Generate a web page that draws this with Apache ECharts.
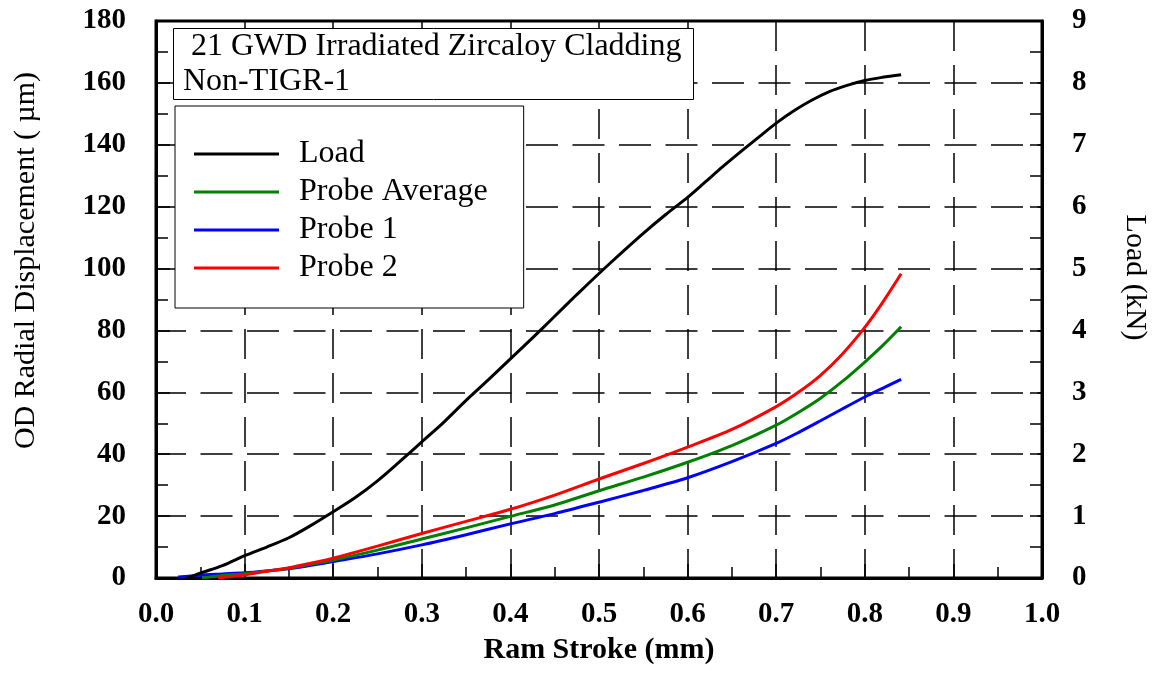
<!DOCTYPE html>
<html>
<head>
<meta charset="utf-8">
<script src="https://cdn.jsdelivr.net/npm/echarts@6/dist/echarts.min.js"></script>
<style>
  html, body { margin: 0; padding: 0; background: #fff; }
  #chart { width: 1154px; height: 681px; }
</style>
</head>
<body>
<div id="chart"></div>
<script>
// ram stroke (mm) vs load (kN) / radial displacement (µm)
const loadStroke = [0.035, 0.05, 0.075, 0.1, 0.125, 0.15, 0.175, 0.2, 0.225, 0.25, 0.275, 0.3, 0.325, 0.35, 0.375, 0.4, 0.425, 0.45, 0.475, 0.5, 0.525, 0.55, 0.575, 0.6, 0.62, 0.64, 0.66, 0.68, 0.7, 0.72, 0.74, 0.76, 0.78, 0.8, 0.82, 0.841];
const loadKN = [0, 0.08, 0.2, 0.36, 0.5, 0.65, 0.85, 1.07, 1.3, 1.57, 1.88, 2.2, 2.52, 2.87, 3.2, 3.54, 3.88, 4.23, 4.58, 4.92, 5.25, 5.57, 5.87, 6.15, 6.4, 6.65, 6.89, 7.12, 7.35, 7.55, 7.72, 7.86, 7.96, 8.04, 8.09, 8.13];

const avgStroke = [0.052, 0.075, 0.1, 0.125, 0.15, 0.175, 0.2, 0.25, 0.3, 0.35, 0.4, 0.45, 0.5, 0.55, 0.6, 0.65, 0.7, 0.725, 0.75, 0.775, 0.8, 0.82, 0.841];
const avgUm = [0, 0.8, 1.4, 2.25, 3.15, 4.4, 5.8, 9.0, 12.6, 16.2, 19.9, 23.6, 28.2, 32.6, 37.4, 42.8, 49.4, 53.5, 58.1, 63.6, 69.8, 75.1, 81.2];

const p1Stroke = [0.025, 0.05, 0.075, 0.1, 0.125, 0.15, 0.175, 0.2, 0.25, 0.3, 0.35, 0.4, 0.45, 0.5, 0.55, 0.6, 0.65, 0.7, 0.725, 0.75, 0.775, 0.8, 0.82, 0.841];
const p1Um = [0.3, 0.9, 1.3, 1.7, 2.3, 3.0, 4.1, 5.3, 7.8, 10.7, 14.0, 17.5, 20.8, 24.5, 28.3, 32.4, 37.6, 43.5, 47.0, 50.8, 54.7, 58.5, 61.3, 64.2];

const p2Stroke = [0.07, 0.085, 0.1, 0.125, 0.15, 0.175, 0.2, 0.25, 0.3, 0.35, 0.4, 0.45, 0.5, 0.55, 0.6, 0.65, 0.7, 0.725, 0.75, 0.775, 0.8, 0.82, 0.841];
const p2Um = [0, 0.5, 1.0, 2.2, 3.3, 4.8, 6.4, 10.3, 14.4, 18.3, 22.2, 26.8, 32.0, 37.0, 42.3, 48.0, 55.4, 60.0, 65.5, 72.5, 81.0, 89.0, 98.3];

const seriesNames = ['Load', 'Probe Average', 'Probe 1', 'Probe 2'];

const pairs = (xs, ys) => xs.map((x, i) => [x, ys[i]]);
const serif = 'Liberation Serif, Times New Roman, serif';

const chart = echarts.init(document.getElementById('chart'));

const tickStyle = { color: '#000', width: 1.5 };

const option = {
  backgroundColor: '#fff',
  animation: false,
  title: {
    text: ' 21 GWD Irradiated Zircaloy Cladding\nNon-TIGR-1',
    left: 173,
    top: 28,
    padding: [1, 12, 1, 10],
    borderColor: '#000',
    borderWidth: 1,
    backgroundColor: '#fff',
    textStyle: { fontFamily: serif, fontSize: 32, fontWeight: 'normal', color: '#000', lineHeight: 35 },
  },
  legend: {
    data: seriesNames,
    orient: 'vertical',
    left: 175,
    top: 106,
    padding: [32, 36, 24, 19],
    itemGap: 6,
    itemWidth: 85,
    itemHeight: 3,
    icon: 'rect',
    selectedMode: false,
    borderColor: '#000',
    borderWidth: 1,
    backgroundColor: '#fff',
    textStyle: { fontFamily: serif, fontSize: 32, color: '#000', lineHeight: 30, padding: [0, 0, 0, 15] },
  },
  grid: {
    left: 156,
    right: 112,
    top: 21,
    bottom: 103,
    outerBoundsMode: 'none',
    show: true,
    borderColor: '#000',
    borderWidth: 3,
  },
  xAxis: {
    type: 'value',
    min: 0,
    max: 1,
    interval: 0.1,
    name: 'Ram Stroke (mm)',
    nameLocation: 'middle',
    nameGap: 57,
    nameTextStyle: { fontFamily: serif, fontSize: 30, fontWeight: 'bold', color: '#000' },
    axisLine: { show: true, lineStyle: { color: '#000', width: 3 } },
    axisTick: { inside: true, length: 14, lineStyle: tickStyle },
    minorTick: { show: true, splitNumber: 2, length: 11, lineStyle: tickStyle },
    axisLabel: {
      margin: 22,
      fontFamily: serif,
      fontSize: 29,
      fontWeight: 'bold',
      color: '#000',
      formatter: v => v.toFixed(1),
    },
    splitLine: { show: true, lineStyle: { color: '#000', width: 1.5, type: [30, 14] } },
  },
  yAxis: [
    {
      type: 'value',
      min: 0,
      max: 180,
      interval: 20,
      name: 'OD Radial Displacement ( µm)',
      nameLocation: 'middle',
      nameGap: 115,
      nameTextStyle: { fontFamily: serif, fontSize: 30, color: '#000', padding: [0, 0, 0, 78] },
      axisLine: { show: true, lineStyle: { color: '#000', width: 3 } },
      axisTick: { inside: true, length: 14, lineStyle: tickStyle },
      minorTick: { show: true, splitNumber: 2, length: 12, lineStyle: tickStyle },
      axisLabel: { margin: 30, fontFamily: serif, fontSize: 29, fontWeight: 'bold', color: '#000' },
      splitLine: { show: true, lineStyle: { color: '#000', width: 1.5, type: [32, 14.5], dashOffset: 2 } },
    },
    {
      type: 'value',
      position: 'right',
      min: 0,
      max: 9,
      interval: 1,
      name: 'Load (kN)',
      nameLocation: 'middle',
      nameGap: 78,
      nameRotate: -90,
      nameTextStyle: { fontFamily: serif, fontSize: 30, color: '#000', padding: [0, 44, 0, 0] },
      axisLine: { show: true, lineStyle: { color: '#000', width: 3 } },
      axisTick: { inside: true, length: 12, lineStyle: tickStyle },
      minorTick: { show: true, splitNumber: 2, length: 12, lineStyle: tickStyle },
      axisLabel: { margin: 30, fontFamily: serif, fontSize: 29, fontWeight: 'bold', color: '#000' },
      splitLine: { show: false },
    },
  ],
  series: [
    {
      name: 'Probe 1',
      type: 'line',
      yAxisIndex: 0,
      data: pairs(p1Stroke, p1Um),
      showSymbol: false,
      symbol: 'none',
      smooth: 0.3,
      color: '#0000ff',
      lineStyle: { color: '#0000ff', width: 3 },
    },
    {
      name: 'Probe Average',
      type: 'line',
      yAxisIndex: 0,
      data: pairs(avgStroke, avgUm),
      showSymbol: false,
      symbol: 'none',
      smooth: 0.3,
      color: '#008000',
      lineStyle: { color: '#008000', width: 3 },
    },
    {
      name: 'Probe 2',
      type: 'line',
      yAxisIndex: 0,
      data: pairs(p2Stroke, p2Um),
      showSymbol: false,
      symbol: 'none',
      smooth: 0.3,
      color: '#ff0000',
      lineStyle: { color: '#ff0000', width: 3 },
    },
    {
      name: 'Load',
      type: 'line',
      yAxisIndex: 1,
      data: pairs(loadStroke, loadKN),
      showSymbol: false,
      symbol: 'none',
      smooth: 0.3,
      color: '#000',
      lineStyle: { color: '#000', width: 3 },
    },
  ],
};

chart.setOption(option);
window.onresize = function() {
  chart.resize();
};
</script>
</body>
</html>
